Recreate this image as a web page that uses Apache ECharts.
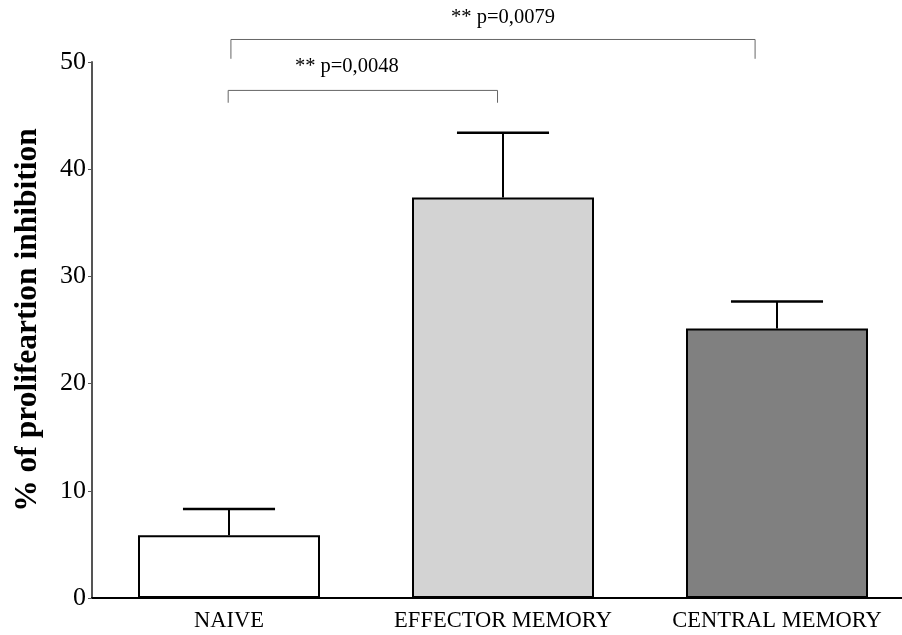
<!DOCTYPE html>
<html>
<head>
<meta charset="utf-8">
<script src="https://cdn.jsdelivr.net/npm/echarts@6/dist/echarts.min.js"></script>
<style>
  html, body { margin: 0; padding: 0; background: #fff; }
  #chart { width: 902px; height: 635px; }
</style>
</head>
<body>
<div id="chart"></div>
<script>
// data
const categories = ['NAIVE', 'EFFECTOR MEMORY', 'CENTRAL MEMORY']
const means = [5.85, 37.35, 25.13]
const errors = [2.45, 6.05, 2.52]   // upper error (SEM)
const barColors = ['#ffffff', '#d3d3d3', '#808080']
const yTicks = [0, 10, 20, 30, 40, 50]

// significance brackets (x in category units, y in data units)
const bracketLabels = ['** p=0,0048', '** p=0,0079']
const bracketFrom = [-0.003, 0.007]
const bracketTo = [0.98, 1.92]
const bracketY = [47.35, 52.1]
const bracketDrop = [46.2, 50.3]
const bracketLabelX = [0.43, 1.0]
const bracketLabelY = [49.55, 54.15]

const font = 'Liberation Serif'

let chartDom = document.getElementById('chart')
let chart = echarts.init(chartDom)

// category coordinate with fractional index
function catX(api, pos) {
  const base = api.coord([0, 0])[0]
  const w = api.size([1, 0])[0]
  return base + pos * w
}

let option = {
  animation: false,
  backgroundColor: '#fff',
  grid: { left: 92, right: -12, top: 62, bottom: 37, containLabel: false, outerBoundsMode: 'none' },
  xAxis: {
    type: 'category',
    data: categories,
    axisLine: { lineStyle: { color: '#000', width: 2 } },
    axisTick: { alignWithLabel: true, length: 5, lineStyle: { color: '#000', width: 1.5 } },
    axisLabel: { interval: 0, color: '#000', fontFamily: font, fontSize: 22.5, margin: 12 },
    splitLine: { show: false }
  },
  yAxis: {
    type: 'value',
    min: 0,
    max: 50,
    interval: 10,
    axisLine: { show: true, lineStyle: { color: '#555', width: 2 } },
    axisTick: { show: true, length: 4, lineStyle: { color: '#555', width: 1 } },
    axisLabel: {
      color: '#000', fontFamily: font, fontSize: 26, margin: 6,
      formatter: v => yTicks.includes(v) ? String(v) : ''
    },
    splitLine: { show: false }
  },
  graphic: [{
    type: 'text',
    x: 28,
    y: 320,
    rotation: Math.PI / 2,
    style: {
      text: '% of prolifeartion inhibition',
      font: 'bold 31.5px "Liberation Serif"',
      fill: '#000',
      align: 'center',
      verticalAlign: 'middle'
    }
  }],
  series: [
    {
      type: 'bar',
      barWidth: 182,
      data: means.map((v, i) => ({
        value: v,
        itemStyle: { color: barColors[i], borderColor: '#000', borderWidth: 2 }
      })),
      z: 2
    },
    {
      // error bars
      type: 'custom',
      z: 3,
      data: means.map((v, i) => [i, v, v + errors[i]]),
      renderItem: (params, api) => {
        const lo = api.coord([api.value(0), api.value(1)])
        const hi = api.coord([api.value(0), api.value(2)])
        const half = api.size([1, 0])[0] * 0.168
        return {
          type: 'group',
          children: [
            { type: 'line', shape: { x1: lo[0], y1: lo[1], x2: hi[0], y2: hi[1] },
              style: { stroke: '#000', lineWidth: 2 } },
            { type: 'line', shape: { x1: hi[0] - half, y1: hi[1], x2: hi[0] + half, y2: hi[1] },
              style: { stroke: '#000', lineWidth: 2.5 } }
          ]
        }
      }
    },
    {
      // significance brackets
      type: 'custom',
      z: 4,
      clip: false,
      data: bracketLabels.map((t, i) => [i]),
      renderItem: (params, api) => {
        const i = params.dataIndex
        const x1 = catX(api, bracketFrom[i])
        const x2 = catX(api, bracketTo[i])
        const y = api.coord([0, bracketY[i]])[1]
        const yd = api.coord([0, bracketDrop[i]])[1]
        const lx = catX(api, bracketLabelX[i])
        const ly = api.coord([0, bracketLabelY[i]])[1]
        const st = { stroke: '#666', lineWidth: 1 }
        return {
          type: 'group',
          children: [
            { type: 'polyline', shape: { points: [[x1, yd], [x1, y], [x2, y], [x2, yd]] }, style: Object.assign({ fill: null }, st) },
            { type: 'text', x: lx, y: ly,
              style: { text: bracketLabels[i], font: '20.5px "Liberation Serif"', fill: '#000', align: 'center', verticalAlign: 'middle' } }
          ]
        }
      }
    }
  ]
}
chart.setOption(option, true)
</script>
</body>
</html>
